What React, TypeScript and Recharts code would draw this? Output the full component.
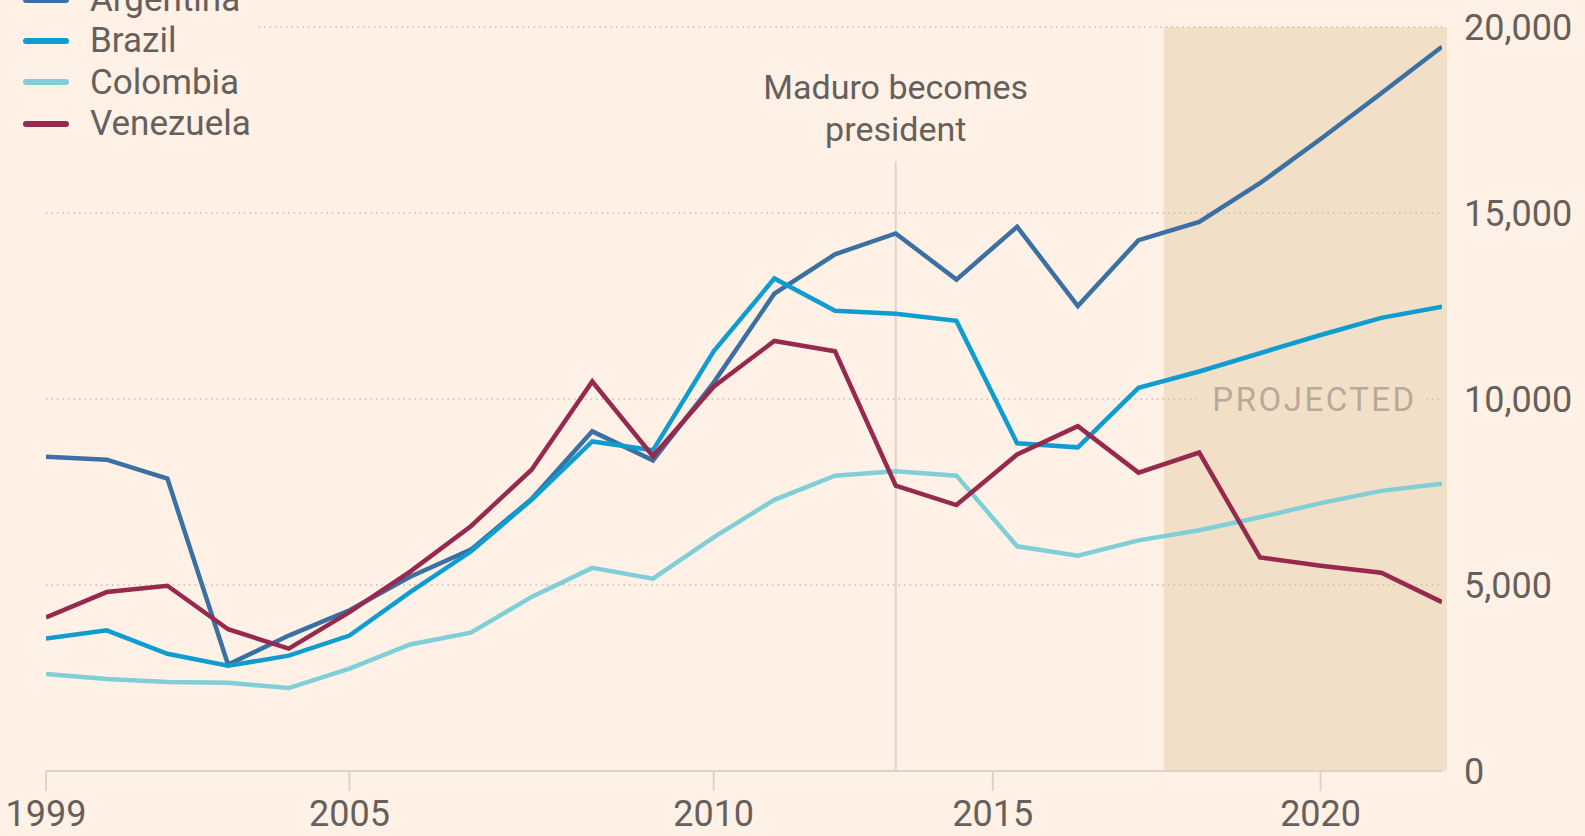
import { Legend, Line, LineChart, ReferenceArea, ReferenceDot, ReferenceLine, XAxis, YAxis } from "recharts"

const years = [1999, 2000, 2001, 2002, 2003, 2004, 2005, 2006, 2007, 2008, 2009, 2010, 2011, 2012, 2013, 2014, 2015, 2016, 2017, 2018, 2019, 2020, 2021, 2022]

const argentina = [8450, 8370, 7860, 2860, 3640, 4320, 5220, 5950, 7310, 9130, 8350, 10440, 12830, 13890, 14450, 13210, 14630, 12500, 14270, 14760, 15800, 16990, 18220, 19470]
const brazil = [3560, 3780, 3150, 2830, 3100, 3640, 4810, 5900, 7290, 8860, 8620, 11280, 13240, 12370, 12290, 12100, 8810, 8700, 10300, 10740, 11230, 11720, 12180, 12480]
const colombia = [2610, 2470, 2390, 2370, 2230, 2750, 3400, 3720, 4680, 5460, 5170, 6280, 7290, 7940, 8060, 7940, 6040, 5790, 6200, 6470, 6820, 7200, 7530, 7720]
const venezuela = [4130, 4810, 4980, 3810, 3290, 4270, 5360, 6580, 8100, 10470, 8460, 10330, 11560, 11280, 7670, 7150, 8510, 9270, 8020, 8560, 5740, 5520, 5330, 4540]

const seriesNames = ["Argentina", "Brazil", "Colombia", "Venezuela"]
const seriesColors = ["#3a70a3", "#0f9dd1", "#80cfd8", "#96294d"]

const xTicks = [1999, 2004, 2010, 2014.6, 2020]
const xTickLabels = ["1999", "2005", "2010", "2015", "2020"]
const yTicks = [0, 5000, 10000, 15000, 20000]
const gridValues = [5000, 10000, 15000, 20000]

const projectedStart = 2017.42
const projectedEnd = 2022.08
const maduroYear = 2013

const data = years.map((year, i) => ({
  year,
  Argentina: argentina[i],
  Brazil: brazil[i],
  Colombia: colombia[i],
  Venezuela: venezuela[i],
}))

const FONT = "Roboto, 'Open Sans', sans-serif"
const TEXT = "#66605c"
const BG = "#fff1e5"
const SHADE = "#f2dfc8"

function LegendBox() {
  return (
    <div style={{ fontFamily: FONT }}>
      {seriesNames.map((name, i) => (
        <div key={name} style={{ display: "flex", alignItems: "center", height: 41.3 }}>
          <div style={{ width: 46, height: 6, borderRadius: 3, background: seriesColors[i], marginLeft: 23, marginRight: 21 }} />
          <span style={{ fontSize: 35, color: TEXT, lineHeight: "41px" }}>{name}</span>
        </div>
      ))}
    </div>
  )
}

export default function App() {
  return (
    <div style={{ position: "absolute", left: 0, top: 0, width: 1585, height: 836, background: BG, overflow: "hidden" }}>
      <LineChart width={1585} height={836} data={data} margin={{ top: 27, right: 0, bottom: 5, left: 46 }}>
        <XAxis
          dataKey="year"
          type="number"
          domain={[1999, 2022]}
          allowDataOverflow
          ticks={xTicks}
          tickFormatter={(v) => xTickLabels[xTicks.indexOf(v)] ?? ""}
          height={60}
          stroke="#dcd3c9"
          strokeWidth={2}
          tickSize={20}
          tickMargin={9}
          tick={{ fill: TEXT, fontSize: 36, fontFamily: FONT }}
          interval={0}
        />
        <YAxis
          orientation="right"
          domain={[0, 20000]}
          ticks={yTicks}
          width={143}
          axisLine={false}
          tickLine={false}
          tickSize={0}
          tickMargin={22}
          tickFormatter={(v) => v.toLocaleString("en-US")}
          tick={{ fill: TEXT, fontSize: 36, fontFamily: FONT, textAnchor: "start" }}
        />
        <Legend
          layout="vertical"
          align="center"
          verticalAlign="middle"
          wrapperStyle={{ top: -21, left: 0, width: 320 }}
          content={() => <LegendBox />}
        />
        <ReferenceArea
          x1={projectedStart}
          x2={projectedEnd}
          y1={0}
          y2={20000}
          fill={SHADE}
          fillOpacity={1}
          stroke="none"
          ifOverflow="visible"
          zIndex={-150}
        />
        {gridValues.map((v) => (
          <ReferenceLine
            key={v}
            segment={[
              { x: v === 20000 ? 2002.5 : 1999, y: v },
              { x: 2022, y: v },
            ]}
            stroke="#c9bcb0"
            strokeWidth={1.5}
            strokeDasharray="1.5 4"
            ifOverflow="visible"
            zIndex={-100}
          />
        ))}
        <ReferenceLine
          segment={[
            { x: maduroYear, y: 0 },
            { x: maduroYear, y: 16380 },
          ]}
          stroke="#ddd4ca"
          strokeWidth={2}
          zIndex={-100}
        />
        <ReferenceDot
          x={maduroYear}
          y={16380}
          r={0}
          ifOverflow="visible"
          zIndex={-90}
          shape={(p: any) => (
            <text x={p.cx} textAnchor="middle" fill={TEXT} fontSize={34} fontFamily={FONT}>
              <tspan x={p.cx} y={p.cy - 63}>Maduro becomes</tspan>
              <tspan x={p.cx} y={p.cy - 21}>president</tspan>
            </text>
          )}
        />
        <ReferenceDot
          x={2019.9}
          y={10000}
          r={0}
          ifOverflow="visible"
          zIndex={-90}
          shape={(p: any) => (
            <g>
              <rect x={p.cx - 118} y={p.cy - 19} width={228} height={38} fill={SHADE} />
              <text x={p.cx} y={p.cy + 12} textAnchor="middle" fill="#b8aa9a" fontSize={33} fontFamily={FONT} letterSpacing={2.5}>
                PROJECTED
              </text>
            </g>
          )}
        />
        {seriesNames.map((name, i) => (
          <Line
            key={name}
            type="linear"
            dataKey={name}
            stroke={seriesColors[i]}
            strokeWidth={4.5}
            dot={false}
            activeDot={false}
            isAnimationActive={false}
          />
        ))}
      </LineChart>
    </div>
  )
}
